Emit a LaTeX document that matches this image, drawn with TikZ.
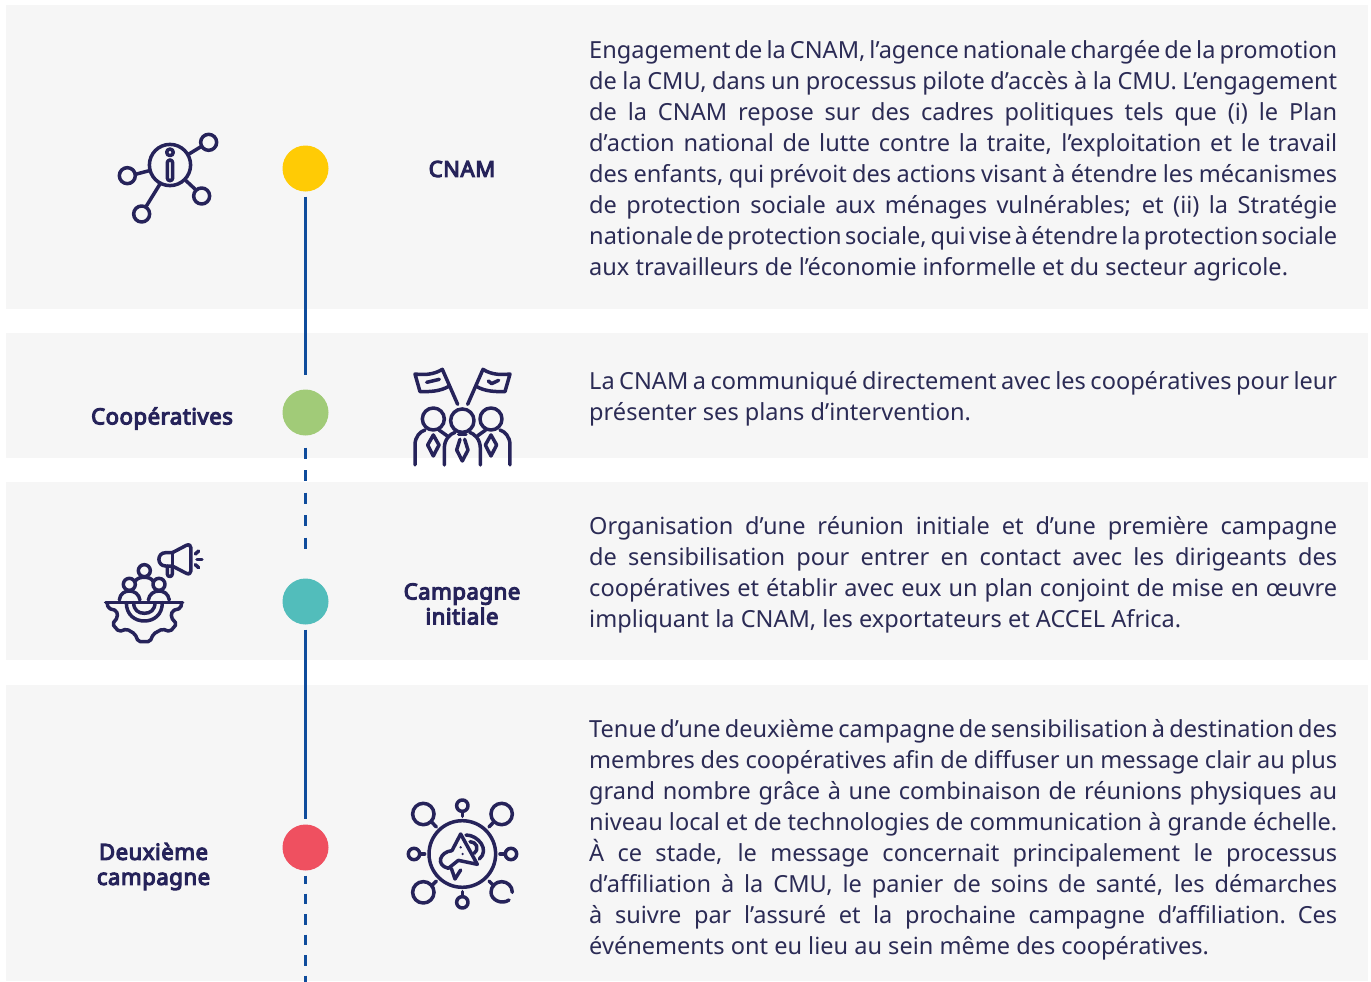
\documentclass[tikz,border=0pt]{standalone}
\usepackage{fontspec}
\setmainfont{Noto Sans}
\newfontfamily\labfont{Noto Sans}[FakeBold=5,LetterSpace=2.2]
\definecolor{panel}{HTML}{F6F6F6}
\definecolor{ink}{HTML}{26235A}
\definecolor{bodyink}{HTML}{2B2B55}
\definecolor{tl}{HTML}{0F4C9C}
\definecolor{cy}{HTML}{FFCB05}
\definecolor{cg}{HTML}{A1CB78}
\definecolor{ct}{HTML}{52BDBB}
\definecolor{cr}{HTML}{EF5060}
\newcommand\jl[1]{\hbox to \linewidth{\spaceskip=.26em plus 1fil minus 1fil\relax #1}}
\newcommand\lastl[1]{\hbox{\spaceskip=.26em\relax #1}}
\tikzset{
  x=1pt,y=-1pt,
  panelbox/.style={fill=panel,draw=none},
  dot/.style={circle,minimum size=46pt,inner sep=0pt,draw=none},
  para/.style={anchor=north west,inner sep=0pt,text width=748pt,text=bodyink,font=\fontsize{23.55pt}{31.05pt}\selectfont},
  lab/.style={align=center,text=ink,inner sep=0pt,font=\labfont\fontsize{22.2pt}{25pt}\selectfont},
  solidtl/.style={draw=tl,line width=2.8pt},
  dashtl/.style={draw=tl,line width=2.8pt,dash pattern=on 11pt off 11.5pt},
  dashtlb/.style={draw=tl,line width=2.8pt,dash pattern=on 10.5pt off 10pt,dash phase=2.5pt},
  ico/.style={draw=ink,line width=3.5pt,line cap=round,line join=round},
}
\begin{document}
\begin{tikzpicture}
\useasboundingbox (0,0) rectangle (1371,982);
\fill[white] (0,0) rectangle (1371,982);
\fill[panelbox] (6,5) rectangle (1367.5,308.5);
\fill[panelbox] (6,332.7) rectangle (1367.5,458);
\fill[panelbox] (6,482) rectangle (1367.5,660);
\fill[panelbox] (6,685) rectangle (1367.5,981);

\node[dot,fill=cy] (c1) at (305.5,168.5) {};
\node[dot,fill=cg] (c2) at (305.5,412.5) {};
\node[dot,fill=ct] (c3) at (305.5,601.5) {};
\node[dot,fill=cr] (c4) at (305.5,847.5) {};
\coordinate (tend) at (305.5,982);
\draw[solidtl,shorten <=5pt,shorten >=14pt] (c1) -- (c2);
\draw[dashtl,shorten <=12pt,shorten >=28pt] (c2) -- (c3);
\draw[solidtl,shorten <=5pt,shorten >=5pt] (c3) -- (c4);
\draw[dashtlb,shorten <=5pt] (c4) -- (tend);

\node[lab] (l1) at (462,169) {CNAM};
\node[lab] (l2) at (162,418.5) {Coopératives};
\node[lab] (l3) at (462,604) {Campagne\\initiale};
\node[lab] (l4) at (153.5,866.5) {Deuxième\\campagne};

\node[para] (p1) at (589,39.9) {%
\jl{Engagement de la CNAM, l’agence nationale chargée de la promotion}
\jl{de la CMU, dans un processus pilote d’accès à la CMU. L’engagement}
\jl{de la CNAM repose sur des cadres politiques tels que (i) le Plan}
\jl{d’action national de lutte contre la traite, l’exploitation et le travail}
\jl{des enfants, qui prévoit des actions visant à étendre les mécanismes}
\jl{de protection sociale aux ménages vulnérables; et (ii) la Stratégie}
\jl{nationale de protection sociale, qui vise à étendre la protection sociale}
\lastl{aux travailleurs de l’économie informelle et du secteur agricole.}};
\node[para] (p2) at (589,371.5) {%
\jl{La CNAM a communiqué directement avec les coopératives pour leur}
\lastl{présenter ses plans d’intervention.}};
\node[para] (p3) at (589,516.5) {%
\jl{Organisation d’une réunion initiale et d’une première campagne}
\jl{de sensibilisation pour entrer en contact avec les dirigeants des}
\jl{coopératives et établir avec eux un plan conjoint de mise en œuvre}
\lastl{impliquant la CNAM, les exportateurs et ACCEL Africa.}};
\node[para] (p4) at (589,718.9) {%
\jl{Tenue d’une deuxième campagne de sensibilisation à destination des}
\jl{membres des coopératives afin de diffuser un message clair au plus}
\jl{grand nombre grâce à une combinaison de réunions physiques au}
\jl{niveau local et de technologies de communication à grande échelle.}
\jl{À ce stade, le message concernait principalement le processus}
\jl{d’affiliation à la CMU, le panier de soins de santé, les démarches}
\jl{à suivre par l’assuré et la prochaine campagne d’affiliation. Ces}
\lastl{événements ont eu lieu au sein même des coopératives.}};

% icon 1
\begin{scope}[shift={(90,110)},x=.3333pt,y=-.3333pt]
\draw[ico] (240,165) circle [radius=20.6pt];
\foreach \a/\b in {356/97,112/197,155/312,335/258}{\draw[ico] (\a,\b) circle [radius=8pt];}
\draw[ico] (297,132)--(333,110);
\draw[ico] (136,193)--(178,182);
\draw[ico] (168,290)--(210,222);
\draw[ico] (288,212)--(318,240);
\draw[ico] (240,127) circle [radius=3.3pt];
\draw[ico,rounded corners=2.6pt] (232,150) rectangle (248,212);
\end{scope}

% icon 2
\begin{scope}[shift={(390,350)},x=.3333pt,y=-.3333pt]
\draw[ico] (203,163)--(157,58) .. controls (130,75) and (100,75) .. (75,72) -- (90,125) .. controls (120,125) and (150,125) .. (178,108);
\draw[ico] (110,97)--(148,88);
\draw[ico] (233,163)--(279,58) .. controls (305,75) and (335,75) .. (360,72) -- (345,125) .. controls (315,125) and (285,125) .. (257,108);
\draw[ico] (295,93)--(305,101)--(326,91);
\draw[ico] (217,212) circle [radius=11.7pt];
\draw[ico] (130,207) circle [radius=11pt];
\draw[ico] (303,207) circle [radius=11pt];
\draw[ico] (163,345)--(163,295) .. controls (163,268) and (180,252) .. (195,247);
\draw[ico] (271,345)--(271,295) .. controls (271,268) and (254,252) .. (239,247);
\draw[ico] (75,345)--(75,285) .. controls (75,260) and (90,245) .. (105,240);
\draw[ico] (360,345)--(360,285) .. controls (360,260) and (345,245) .. (330,240);
\draw[ico] (147,240)--(172,258);
\draw[ico] (287,240)--(262,258);
\draw[ico] (206,253)--(228,253);
\draw[ico] (210,268)--(200,300)--(217,333)--(234,300)--(224,268);
\draw[ico] (130,255)--(113,285)--(130,318)--(147,285)--cycle;
\draw[ico] (303,255)--(286,285)--(303,318)--(320,285)--cycle;
\end{scope}

% icon 3
\begin{scope}[shift={(85,530)},x=.3333pt,y=-.3333pt]
\draw[ico] (62,218)--(293,218);
\draw[ico,rounded corners=2pt] (66,218)--(70,235)--(95,242)--(98,262)--(82,282)--(102,305)--(125,297)--(150,312)--(160,335)--(195,335)--(205,312)--(232,297)--(255,305)--(275,282)--(258,262)--(262,242)--(287,235)--(290,218);
\draw[ico] (124,218) .. controls (124,255) and (150,273) .. (178,273) .. controls (206,273) and (232,255) .. (232,218);
\draw[ico] (146,218) .. controls (146,240) and (160,250) .. (178,250) .. controls (196,250) and (210,240) .. (210,218);
\draw[ico] (178,122) circle [radius=6pt];
\draw[ico] (133,163) circle [radius=6pt];
\draw[ico] (222,163) circle [radius=6pt];
\draw[ico] (103,210) .. controls (105,190) and (120,183) .. (133,183) .. controls (148,183) and (162,192) .. (165,210);
\draw[ico] (190,210) .. controls (193,192) and (207,183) .. (222,183) .. controls (235,183) and (250,190) .. (253,210);
\draw[ico] (150,155) .. controls (155,145) and (165,142) .. (178,142) .. controls (190,142) and (200,145) .. (205,155);
\draw[ico] (262,68)--(304,46) .. controls (312,42) and (318,46) .. (318,54)--(318,122) .. controls (318,130) and (312,134) .. (304,130)--(262,108);
\draw[ico] (262,68)--(262,108);
\draw[ico] (262,68)--(242,68) .. controls (215,68) and (215,108) .. (242,108)--(262,108);
\draw[ico] (247,108)--(247,132) .. controls (247,142) and (262,142) .. (262,132)--(262,108);
\draw[ico] (331,72)--(341,63);
\draw[ico] (336,88)--(351,88);
\draw[ico] (331,104)--(341,113);
\end{scope}

% icon 4
\begin{scope}[shift={(390,785)},x=.3333pt,y=-.3333pt]
\draw[ico] (217,207) circle [radius=33.3pt];
\foreach \a/\b in {217/62,217/352,72/207,363/207}{\draw[ico] (\a,\b) circle [radius=5.7pt];}
\foreach \a/\b in {100/87,335/87,100/322}{\draw[ico] (\a,\b) circle [radius=10.7pt];}
\draw[ico] (357,345) .. controls (335,360) and (303,345) .. (303,322) .. controls (303,303) and (318,290) .. (335,290) .. controls (352,290) and (367,303) .. (367,322);
\draw[ico] (217,79)--(217,94);
\draw[ico] (217,320)--(217,335);
\draw[ico] (89,207)--(104,207);
\draw[ico] (330,207)--(346,207);
\draw[ico] (124,110)--(139,126);
\draw[ico] (312,110)--(297,126);
\draw[ico] (124,303)--(139,288);
\draw[ico] (312,303)--(297,288);
\draw[ico] (212,147)--(262,238)--(205,226);
\draw[ico] (212,147)--(186,197);
\draw[ico] (186,197) .. controls (150,200) and (135,240) .. (175,250) -- (205,226);
\draw[ico] (184,250)--(195,282)--(212,255);
\draw[ico] (228,150) .. controls (265,150) and (300,195) .. (268,222);
\draw[ico] (240,170) .. controls (258,170) and (270,190) .. (252,205);
\fill[ink] (212,187) circle [radius=1.3pt] (218,207) circle [radius=1.3pt];
\end{scope}
\end{tikzpicture}
\end{document}
